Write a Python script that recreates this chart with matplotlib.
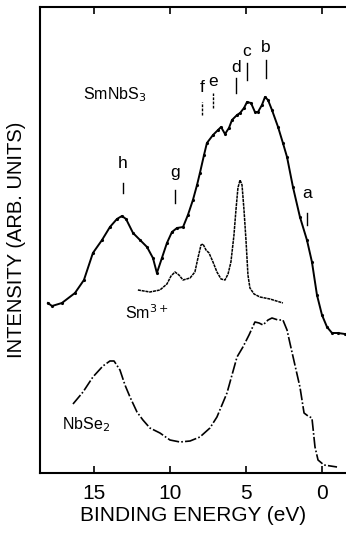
import matplotlib
matplotlib.use("Agg")
import matplotlib.pyplot as plt

plt.rcParams['font.family'] = ['Liberation Sans', 'DejaVu Sans']

# SmNbS3 spectrum (binding energy eV, intensity arb.)
sm_e = [18.03, 17.76, 17.11, 16.25, 15.66, 15.07, 14.47, 13.95, 13.49, 13.16, 12.89, 12.43,
        11.97, 11.51, 11.12, 10.86, 10.53, 10.20, 9.87, 9.54, 9.14, 8.82, 8.49, 8.22, 8.03,
        7.76, 7.57, 7.17, 6.84, 6.64, 6.38, 6.12, 5.92, 5.59, 5.39, 5.13, 4.93, 4.67, 4.41,
        4.21, 3.95, 3.75, 3.55, 3.29, 2.89, 2.57, 2.30, 1.91, 1.45, 0.99, 0.66, 0.33, 0.0,
        -0.33, -0.66, -1.05, -1.51]
sm_i = [170, 167, 170, 180, 193, 220, 233, 246, 254, 257, 254, 240,
        233, 226, 215, 200, 215, 230, 241, 245, 246, 258, 273, 288, 300,
        318, 330, 338, 343, 346, 339, 345, 353, 358, 360, 365, 371, 370, 361,
        361, 368, 376, 373, 363, 346, 330, 316, 286, 256, 233, 211, 178, 158,
        146, 140, 140, 139]

# Sm3+ spectrum
s3_e = [12.11, 11.32, 10.66, 10.20, 9.93, 9.67, 9.41, 9.14, 8.68, 8.36, 8.16, 7.96, 7.83,
        7.63, 7.43, 7.17, 6.91, 6.64, 6.38, 6.18, 5.99, 5.79, 5.66, 5.53, 5.39, 5.26, 5.13,
        5.00, 4.87, 4.74, 4.47, 4.08, 3.42, 2.57]
s3_i = [183, 181, 183, 189, 197, 201, 198, 193, 195, 201, 215, 228, 229,
        223, 220, 211, 201, 194, 193, 199, 211, 238, 263, 285, 293, 288, 263,
        233, 198, 185, 179, 176, 174, 170]

# NbSe2 spectrum
nb_e = [16.38, 15.72, 15.07, 14.41, 13.95, 13.68, 13.29, 12.96, 12.63, 12.17, 11.78, 11.32,
        10.66, 10.0, 9.34, 8.68, 8.03, 7.37, 6.91, 6.58, 6.25, 5.92, 5.59, 5.20, 4.80, 4.41,
        4.14, 3.88, 3.55, 3.29, 2.89, 2.57, 2.30, 2.11, 1.78, 1.45, 1.18, 0.92, 0.66, 0.46,
        0.26, -0.13, -0.99]
nb_i = [69, 81, 96, 107, 112, 112, 103, 88, 76, 61, 53, 45,
        40, 33, 31, 32, 36, 45, 56, 68, 80, 98, 116, 126, 138, 151,
        150, 148, 153, 155, 153, 153, 143, 130, 108, 86, 60, 57, 55, 26,
        13, 8, 6]

# peak markers
peak_names = ['h', 'g', 'f', 'e', 'd', 'c', 'b', 'a']
peak_e = [13.09, 9.67, 7.89, 7.17, 5.66, 4.93, 3.68, 0.99]
peak_label_i = [310, 300, 385, 391, 405, 421, 426, 280]
peak_tick_top = [290, 283, 371, 380, 395, 410, 413, 260]
peak_tick_bot = [280, 270, 358, 365, 380, 393, 395, 248]
peak_dashed = [False, False, True, True, False, False, False, False]

xticks = [15, 10, 5, 0]

fig = plt.figure(figsize=(3.46, 5.35), dpi=100)
ax = fig.add_axes([40/346, 62/535, 1 - 40/346, 466/535])

ax.plot(sm_e, sm_i, color='black', lw=1.4, marker='.', ms=2.5)
ax.plot(s3_e, s3_i, color='black', lw=1.1, ls=(0, (2.0, 0.5)))
ax.plot(nb_e, nb_i, color='black', lw=1.2, ls=(0, (7, 1.3, 1, 1.3)))

for n, e, li, tt, tb, dsh in zip(peak_names, peak_e, peak_label_i, peak_tick_top,
                                   peak_tick_bot, peak_dashed):
    ax.text(e, li, n, ha='center', va='center', fontsize=12.5)
    ax.plot([e, e], [tb, tt], color='black', lw=1.0, ls=(0, (2, 1)) if dsh else '-')

ax.text(15.72, 378, 'SmNbS$_3$', ha='left', va='center', fontsize=11.5)
ax.text(12.96, 160, 'Sm$^{3+}$', ha='left', va='center', fontsize=11.5)
ax.text(17.1, 48, 'NbSe$_2$', ha='left', va='center', fontsize=11.5)

ax.set_xlim(18.55, -1.58)
ax.set_ylim(0, 466)
ax.set_xticks(xticks)
ax.set_xticklabels([str(t) for t in xticks], fontsize=15)
ax.set_yticks([])
ax.tick_params(axis='x', direction='in', top=True, length=5, width=1.2, pad=8)
ax.spines['right'].set_visible(False)
for s in ['left', 'top', 'bottom']:
    ax.spines[s].set_linewidth(1.5)

ax.set_xlabel('BINDING ENERGY (eV)', fontsize=15, labelpad=2)
ax.set_ylabel('INTENSITY (ARB. UNITS)', fontsize=14.5, labelpad=10)

fig.savefig('out.png', dpi=100)
